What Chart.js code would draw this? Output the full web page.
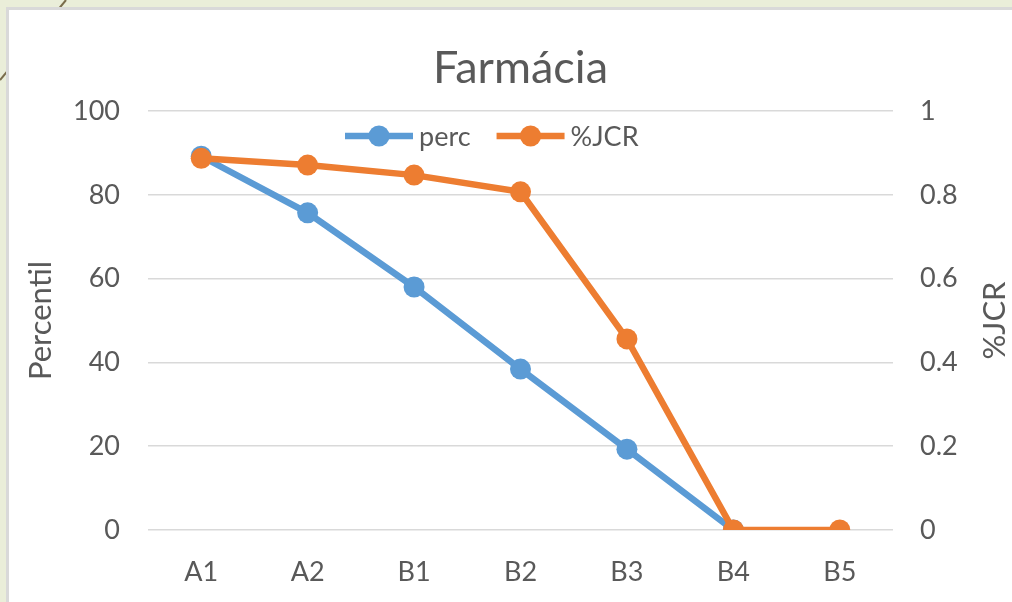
<!DOCTYPE html>
<html>
<head>
<meta charset="utf-8">
<script src="https://cdn.jsdelivr.net/npm/chart.js@4/dist/chart.umd.min.js"></script>
<style>
  html, body { margin: 0; padding: 0; }
  body { width: 1012px; height: 602px; background: #eaeed9; position: relative; overflow: hidden; }
  #deco { position: absolute; left: 0; top: 0; }
  #panel {
    position: absolute; left: 6px; top: 7px; width: 1010px; height: 600px;
    background: #fff; border-top: 3px solid #d9d9d9; border-left: 3px solid #d9d9d9;
  }
  #wrap { position: absolute; left: 9px; top: 10px; width: 1003px; height: 592px; }
</style>
</head>
<body>
<svg id="deco" width="100" height="100"><line x1="0" y1="80" x2="66" y2="0" stroke="#7a6d4c" stroke-width="2"/></svg>
<div id="panel"></div>
<div id="wrap"><canvas id="myChart" width="1003" height="592"></canvas></div>
<script>
// data
const categories = ['A1', 'A2', 'B1', 'B2', 'B3', 'B4', 'B5']
const percValues = [89.2, 75.7, 58.0, 38.4, 19.3, 0, null]
const jcrValues = [0.887, 0.871, 0.847, 0.807, 0.456, 0, 0]
const leftTicks = [0, 20, 40, 60, 80, 100]
const rightTicks = [0, 0.2, 0.4, 0.6, 0.8, 1]

const blue = '#5b9bd5'
const orange = '#ed7d31'
const grey = '#595959'
const font = 'Lato, Calibri, Carlito, sans-serif'

// legend sits inside the plot, like Excel does it (line + dot, then label)
const insideLegend = {
    id: 'insideLegend',
    afterDatasetsDraw(chart) {
        const ctx = chart.ctx
        const area = chart.chartArea
        const y = area.top + 25
        let x = area.left + 197
        ctx.save()
        ctx.font = '27px ' + font
        ctx.textBaseline = 'middle'
        ctx.textAlign = 'left'
        chart.data.datasets.forEach(ds => {
            ctx.strokeStyle = ds.borderColor
            ctx.lineWidth = 6.5
            ctx.beginPath()
            ctx.moveTo(x, y)
            ctx.lineTo(x + 68, y)
            ctx.stroke()
            ctx.fillStyle = ds.borderColor
            ctx.beginPath()
            ctx.arc(x + 34, y, 10.5, 0, Math.PI * 2)
            ctx.fill()
            ctx.fillStyle = grey
            ctx.fillText(ds.label, x + 74, y + 1)
            x += 74 + ctx.measureText(ds.label).width + 26
        })
        ctx.restore()
    }
}

// right axis title reads bottom-to-top like the left one
const rightTitle = {
    id: 'rightTitle',
    afterDraw(chart) {
        const ctx = chart.ctx
        const area = chart.chartArea
        ctx.save()
        ctx.translate(986, (area.top + area.bottom) / 2)
        ctx.rotate(-Math.PI / 2)
        ctx.fillStyle = grey
        ctx.font = '31px ' + font
        ctx.textAlign = 'center'
        ctx.textBaseline = 'middle'
        ctx.fillText('%JCR', 0, 0)
        ctx.restore()
    }
}

const ctx = document.getElementById('myChart')

new Chart(ctx, {
    type: 'line',
    data: {
        labels: categories,
        datasets: [{
            label: 'perc',
            data: percValues,
            yAxisID: 'y',
            order: 1,
            borderColor: blue,
            backgroundColor: blue,
            borderWidth: 6.5,
            pointRadius: 10.5,
            pointBorderWidth: 0,
            pointStyle: 'circle',
            tension: 0
        }, {
            label: '%JCR',
            data: jcrValues,
            yAxisID: 'y1',
            order: 0,
            borderColor: orange,
            backgroundColor: orange,
            borderWidth: 6.5,
            pointRadius: 10.5,
            pointBorderWidth: 0,
            pointStyle: 'circle',
            tension: 0
        }]
    },
    options: {
        responsive: false,
        animation: false,
        layout: { padding: 0 },
        plugins: {
            title: {
                display: true,
                fullSize: false,
                text: 'Farmácia',
                color: grey,
                font: { family: font, size: 45, weight: 'normal' },
                padding: { top: 31, bottom: 16 }
            },
            legend: { display: false },
            tooltip: { enabled: false }
        },
        scales: {
            x: {
                offset: true,
                grid: { display: false, drawTicks: false },
                border: { display: false },
                ticks: {
                    color: grey,
                    font: { family: font, size: 27 },
                    padding: 26,
                    maxRotation: 0
                },
                afterFit(scale) { scale.height = 72 }
            },
            y: {
                position: 'left',
                min: 0,
                max: 100,
                afterBuildTicks(scale) { scale.ticks = leftTicks.map(v => ({ value: v })) },
                grid: { color: '#d9d9d9', lineWidth: 1.5, drawTicks: false },
                border: { display: false },
                ticks: {
                    color: grey,
                    font: { family: font, size: 27 },
                    padding: 28
                },
                title: {
                    display: true,
                    text: 'Percentil',
                    color: grey,
                    font: { family: font, size: 31 },
                    padding: { top: 13, bottom: 0 }
                },
                afterFit(scale) { scale.width = 139 }
            },
            y1: {
                position: 'right',
                min: 0,
                max: 1,
                afterBuildTicks(scale) { scale.ticks = rightTicks.map(v => ({ value: v })) },
                grid: { display: false, drawTicks: false },
                border: { display: false },
                ticks: {
                    color: grey,
                    font: { family: font, size: 27 },
                    padding: 27,
                    callback: v => String(v)
                },
                afterFit(scale) { scale.width = 119 }
            }
        }
    },
    plugins: [insideLegend, rightTitle]
})
</script>
</body>
</html>
